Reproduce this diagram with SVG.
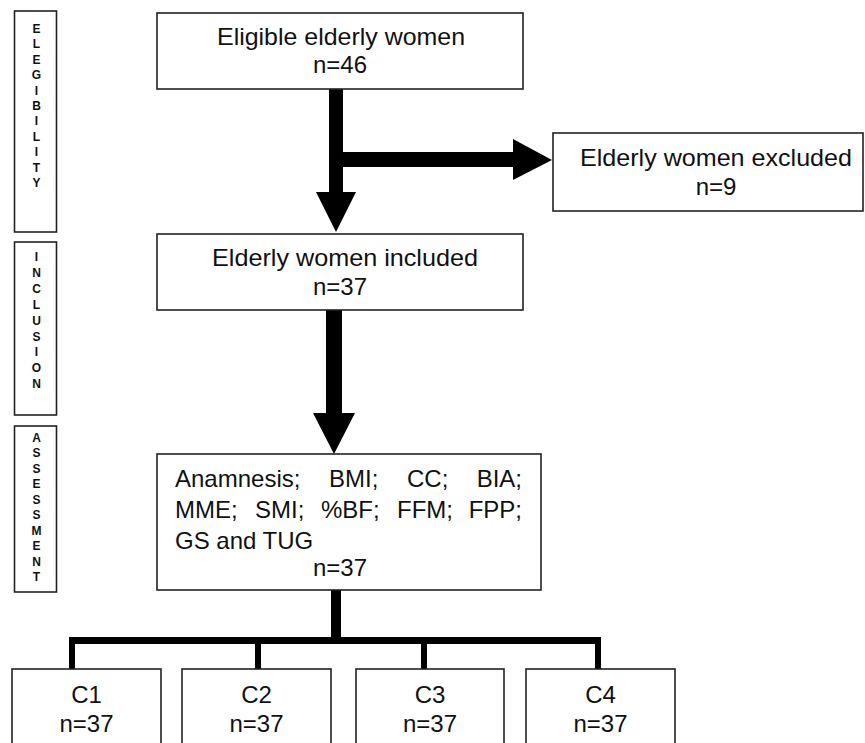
<svg xmlns="http://www.w3.org/2000/svg" width="865" height="743" viewBox="0 0 865 743">
<style>
  .box { fill: #fff; stroke: #222; stroke-width: 1.6; }
  .t { font-family: "Liberation Sans", Arial, sans-serif; font-size: 24px; fill: #111; }
  .c { text-anchor: middle; }
  .e { text-anchor: end; }
  .side { font-family: "Liberation Sans", Arial, sans-serif; font-size: 12px; font-weight: bold; fill: #111; text-anchor: middle; }
  .conn { fill: #000; stroke: none; }
</style>
<rect width="865" height="743" fill="#fff"/>

<g id="side-eligibility">
  <rect class="box" x="14.5" y="11" width="42" height="221"/>
  <text class="side">
    <tspan x="36.5" y="33">E</tspan><tspan x="36.5" y="48.4">L</tspan><tspan x="36.5" y="63.8">E</tspan><tspan x="36.5" y="79.2">G</tspan><tspan x="36.5" y="94.6">I</tspan><tspan x="36.5" y="110">B</tspan><tspan x="36.5" y="125.4">I</tspan><tspan x="36.5" y="140.8">L</tspan><tspan x="36.5" y="156.2">I</tspan><tspan x="36.5" y="171.6">T</tspan><tspan x="36.5" y="187">Y</tspan>
  </text>
</g>
<g id="side-inclusion">
  <rect class="box" x="14.5" y="242" width="42" height="173"/>
  <text class="side">
    <tspan x="36.5" y="261">I</tspan><tspan x="36.5" y="276.9">N</tspan><tspan x="36.5" y="292.8">C</tspan><tspan x="36.5" y="308.7">L</tspan><tspan x="36.5" y="324.6">U</tspan><tspan x="36.5" y="340.5">S</tspan><tspan x="36.5" y="356.4">I</tspan><tspan x="36.5" y="372.3">O</tspan><tspan x="36.5" y="388.2">N</tspan>
  </text>
</g>
<g id="side-assessment">
  <rect class="box" x="14.5" y="426" width="42" height="166"/>
  <text class="side">
    <tspan x="36.5" y="441.5">A</tspan><tspan x="36.5" y="457">S</tspan><tspan x="36.5" y="472.5">S</tspan><tspan x="36.5" y="488">E</tspan><tspan x="36.5" y="503.5">S</tspan><tspan x="36.5" y="519">S</tspan><tspan x="36.5" y="534.5">M</tspan><tspan x="36.5" y="550">E</tspan><tspan x="36.5" y="565.5">N</tspan><tspan x="36.5" y="581">T</tspan>
  </text>
</g>

<g id="connectors">
  <polygon class="conn" points="329,89 343,89 343,152 513,152 513,139 552,160 513,180 513,167 343,167 343,192 356,192 336,232 316,192 329,192"/>
  <polygon class="conn" points="326,310 342,310 342,413 355,413 334,454 313,413 326,413"/>
  <polygon class="conn" points="331,590 341,590 341,637 601,637 601,669 595,669 595,644 427,644 427,669 421,669 421,644 261,644 261,669 255,669 255,644 75,644 75,669 69,669 69,637 331,637"/>
</g>

<g id="eligible">
  <rect class="box" x="157" y="13" width="366" height="76"/>
  <text class="t" x="217" y="45" textLength="248" lengthAdjust="spacingAndGlyphs">Eligible elderly women</text>
  <text class="t c" x="340" y="73">n=46</text>
</g>
<g id="excluded">
  <rect class="box" x="553" y="133" width="310" height="78"/>
  <text class="t" x="580" y="166" textLength="272" lengthAdjust="spacingAndGlyphs">Elderly women excluded</text>
  <text class="t c" x="716" y="195">n=9</text>
</g>
<g id="included">
  <rect class="box" x="157" y="234" width="366" height="76"/>
  <text class="t" x="212" y="266" textLength="266" lengthAdjust="spacingAndGlyphs">Elderly women included</text>
  <text class="t c" x="340" y="295">n=37</text>
</g>
<g id="assessment">
  <rect class="box" x="157" y="454" width="384" height="136"/>
  <text class="t" x="175" y="487">Anamnesis;</text>
  <text class="t" x="329" y="487">BMI;</text>
  <text class="t" x="407" y="487">CC;</text>
  <text class="t e" x="522" y="487">BIA;</text>
  <text class="t" x="175" y="518">MME;</text>
  <text class="t" x="255" y="518">SMI;</text>
  <text class="t" x="321" y="518">%BF;</text>
  <text class="t" x="397" y="518">FFM;</text>
  <text class="t e" x="522" y="518">FPP;</text>
  <text class="t" x="175" y="549">GS and TUG</text>
  <text class="t c" x="340" y="576">n=37</text>
</g>
<g id="c1">
  <rect class="box" x="12" y="669" width="149" height="90"/>
  <text class="t c" x="86.5" y="703">C1</text>
  <text class="t c" x="86.5" y="732">n=37</text>
</g>
<g id="c2">
  <rect class="box" x="182" y="669" width="149" height="90"/>
  <text class="t c" x="256.5" y="703">C2</text>
  <text class="t c" x="256.5" y="732">n=37</text>
</g>
<g id="c3">
  <rect class="box" x="356" y="669" width="148" height="90"/>
  <text class="t c" x="430" y="703">C3</text>
  <text class="t c" x="430" y="732">n=37</text>
</g>
<g id="c4">
  <rect class="box" x="526" y="669" width="149" height="90"/>
  <text class="t c" x="600.5" y="703">C4</text>
  <text class="t c" x="600.5" y="732">n=37</text>
</g>
</svg>
